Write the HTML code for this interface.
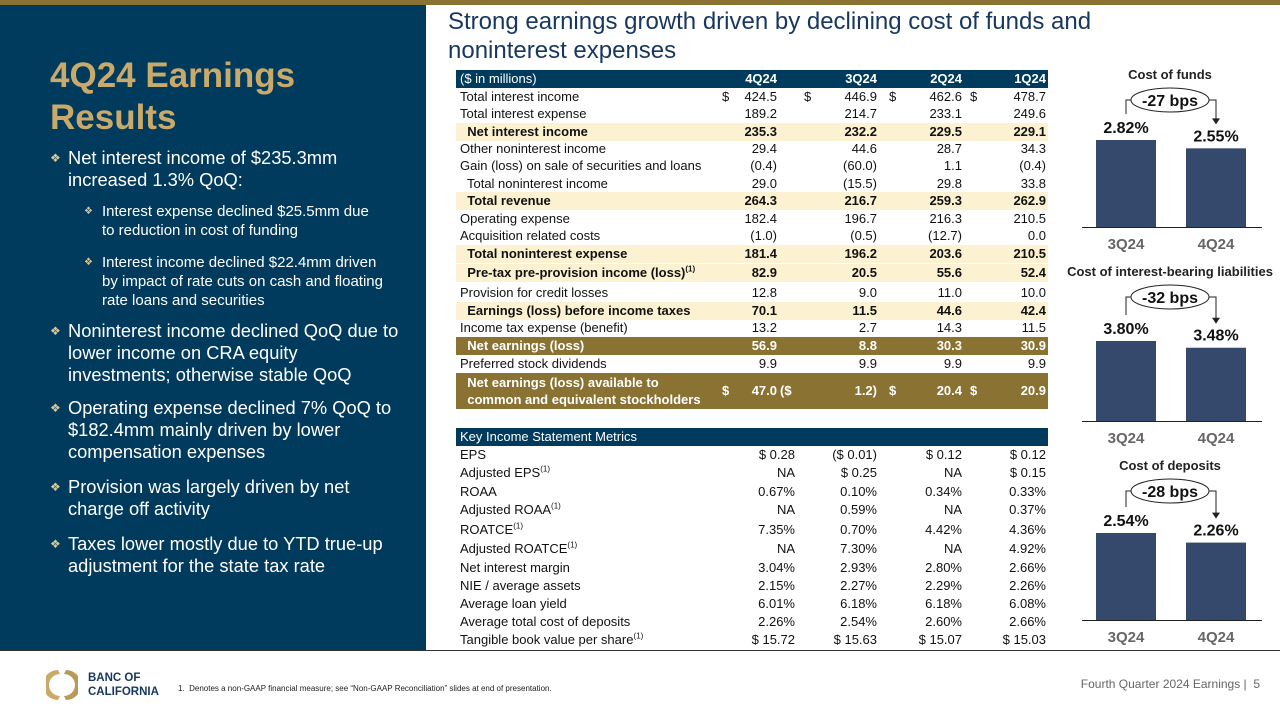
<!DOCTYPE html>
<html><head><meta charset="utf-8">
<style>
*{margin:0;padding:0;box-sizing:border-box}
body{width:1280px;height:720px;overflow:hidden;background:#fff;font-family:"Liberation Sans",Arial,sans-serif;position:relative}
.abs{position:absolute}
#left{left:0;top:5px;width:426px;height:646px;background:#003a5c}
#left .h{position:absolute;left:50px;top:50px;color:#c9aa6b;font-weight:bold;font-size:35px;line-height:42px}
.b1{position:absolute;left:50px;color:#fff;font-size:18.3px;line-height:22px;padding-left:18px;width:376px;white-space:nowrap}
.b1:before{content:"❖";position:absolute;left:0;top:0;font-size:12px;color:#d8c898}
.b2{position:absolute;left:84px;color:#fff;font-size:15px;line-height:19px;padding-left:18px;width:330px;white-space:nowrap}
.b2:before{content:"❖";position:absolute;left:0;top:0;font-size:10px;color:#d8c898}
.row{position:absolute;left:456px;width:592px;height:18px;font-size:13px;color:#111;line-height:18px}
.row span{position:absolute;top:0;white-space:nowrap}
.hl{background:#fcf2d2;font-weight:bold}
.gd{background:#8a7232;color:#fff;font-weight:bold}
.hd{background:#003a5c;color:#fff}
.hd span{font-weight:bold}
.hd span:first-child{font-weight:normal}
sup{font-size:8px;line-height:0}
</style></head><body>
<div class="abs" style="left:0;top:0;width:1280px;height:5px;background:#8a7232"></div>
<div class="abs" id="left">
 <div class="h">4Q24 Earnings<br>Results</div>
 <div class="b1" style="top:142px">Net interest income of $235.3mm<br>increased 1.3% QoQ:</div>
 <div class="b2" style="top:197px">Interest expense declined $25.5mm due<br>to reduction in cost of funding</div>
 <div class="b2" style="top:248px">Interest income declined $22.4mm driven<br>by impact of rate cuts on cash and floating<br>rate loans and securities</div>
 <div class="b1" style="top:315px">Noninterest income declined QoQ due to<br>lower income on CRA equity<br>investments; otherwise stable QoQ</div>
 <div class="b1" style="top:392px">Operating expense declined 7% QoQ to<br>$182.4mm mainly driven by lower<br>compensation expenses</div>
 <div class="b1" style="top:471px">Provision was largely driven by net<br>charge off activity</div>
 <div class="b1" style="top:528px">Taxes lower mostly due to YTD true-up<br>adjustment for the state tax rate</div>
</div>
<div class="abs" style="left:448px;top:7px;width:740px;font-size:24px;line-height:29px;color:#17375e">Strong earnings growth driven by declining cost of funds and noninterest expenses</div>
<div id="table"></div>
<svg id="charts" class="abs" style="left:0;top:0" width="1280" height="720"></svg>
<div class="abs" style="left:0;top:650px;width:1280px;height:1px;background:#333"></div>
<svg class="abs" style="left:46px;top:668px" width="32" height="34">
 <path d="M12 2 A15 15 0 0 0 12 32 L14 28 A11 11 0 0 1 14 6Z" fill="#c9aa6b"/>
 <path d="M20 2 A15 15 0 0 1 20 32 L18 28 A11 11 0 0 0 18 6Z" fill="#b89a58"/>
</svg>
<div class="abs" style="left:88px;top:671px;font-size:11.5px;font-weight:bold;line-height:14px;color:#17375e">BANC OF<br>CALIFORNIA</div>
<div class="abs" style="left:178px;top:684px;font-size:8px;color:#222">1.&nbsp; Denotes a non-GAAP financial measure; see “Non-GAAP Reconciliation” slides at end of presentation.</div>
<div class="abs" style="left:1060px;top:677px;width:200px;text-align:right;font-size:12px;color:#666">Fourth Quarter 2024 Earnings |&nbsp; 5</div>
<script>
const rows=[
 [79,"hd","($ in millions)",["4Q24","3Q24","2Q24","1Q24"],0],
 [97,"","Total interest income",["424.5","446.9","462.6","478.7"],1],
 [114,"","Total interest expense",["189.2","214.7","233.1","249.6"]],
 [132,"hl","&nbsp; Net interest income",["235.3","232.2","229.5","229.1"]],
 [149,"","Other noninterest income",["29.4","44.6","28.7","34.3"]],
 [166,"","Gain (loss) on sale of securities and loans",["(0.4)","(60.0)","1.1","(0.4)"]],
 [184,"","&nbsp; Total noninterest income",["29.0","(15.5)","29.8","33.8"]],
 [201,"hl","&nbsp; Total revenue",["264.3","216.7","259.3","262.9"]],
 [219,"","Operating expense",["182.4","196.7","216.3","210.5"]],
 [236,"","Acquisition related costs",["(1.0)","(0.5)","(12.7)","0.0"]],
 [254,"hl","&nbsp; Total noninterest expense",["181.4","196.2","203.6","210.5"]],
 [273,"hl","&nbsp; Pre-tax pre-provision income (loss)<sup>(1)</sup>",["82.9","20.5","55.6","52.4"]],
 [293,"","Provision for credit losses",["12.8","9.0","11.0","10.0"]],
 [311,"hl","&nbsp; Earnings (loss) before income taxes",["70.1","11.5","44.6","42.4"]],
 [328,"","Income tax expense (benefit)",["13.2","2.7","14.3","11.5"]],
 [346,"gd","&nbsp; Net earnings (loss)",["56.9","8.8","30.3","30.9"]],
 [364,"","Preferred stock dividends",["9.9","9.9","9.9","9.9"]]
];
const metrics=[
 ["EPS",["$ 0.28","($ 0.01)","$ 0.12","$ 0.12"]],
 ["Adjusted EPS<sup>(1)</sup>",["NA","$ 0.25","NA","$ 0.15"]],
 ["ROAA",["0.67%","0.10%","0.34%","0.33%"]],
 ["Adjusted ROAA<sup>(1)</sup>",["NA","0.59%","NA","0.37%"]],
 ["ROATCE<sup>(1)</sup>",["7.35%","0.70%","4.42%","4.36%"]],
 ["Adjusted ROATCE<sup>(1)</sup>",["NA","7.30%","NA","4.92%"]],
 ["Net interest margin",["3.04%","2.93%","2.80%","2.66%"]],
 ["NIE / average assets",["2.15%","2.27%","2.29%","2.26%"]],
 ["Average loan yield",["6.01%","6.18%","6.18%","6.08%"]],
 ["Average total cost of deposits",["2.26%","2.54%","2.60%","2.66%"]],
 ["Tangible book value per share<sup>(1)</sup>",["$ 15.72","$ 15.63","$ 15.07","$ 15.03"]]
];
const metricY=[455,473,492,510,530,549,568,586,604,622,640];
const T=document.getElementById('table');
const colR=[777,877,962,1046], dolX=[722,804,889,970];
function mkRow(y,cls,label,vals,dol,right,h){
 const r=document.createElement('div');
 r.className='row '+cls;
 
 
 r.style.top=(y-(h||18)/2)+'px';
 if(h){r.style.height=h+'px';}
 let s='<span style="left:4px;'+(h?'line-height:17px;top:1px':'')+'">'+label+'</span>';
 vals.forEach((v,i)=>{
  s+='<span style="right:'+(1048-right[i])+'px;'+(h?'top:'+(h/2-9)+'px':'')+'">'+v+'</span>';
  if(dol){
   const sym=Array.isArray(dol)?dol[i]:'$';
   const lx=Array.isArray(dol)&&sym.length>1?(right[i-1]+3-456):(dolX[i]-456);
   s+='<span style="left:'+lx+'px;'+(h?'top:'+(h/2-9)+'px':'')+'">'+sym+'</span>';
  }
 });
 r.innerHTML=s;T.appendChild(r);
}
rows.forEach(r=>mkRow(r[0],r[1],r[2],r[3],r[4],colR));
mkRow(391,'gd','&nbsp; Net earnings (loss) available to<br>&nbsp; common and equivalent stockholders',["47.0","1.2)","20.4","20.9"],["$","($","$","$"],colR,36);
mkRow(437,'hd','Key Income Statement Metrics',[],0,colR);
const mR=[795,877,962,1046];
metrics.forEach((m,i)=>mkRow(metricY[i],'',m[0],m[1],0,mR));

const cats=["3Q24","4Q24"];
const costFunds=[2.82,2.55];
const costIBL=[3.80,3.48];
const costDeposits=[2.54,2.26];
const charts=[
 {title:"Cost of funds",vals:costFunds,delta:"-27 bps",base:227,titleY:79,maxH:87},
 {title:"Cost of interest-bearing liabilities",vals:costIBL,delta:"-32 bps",base:421,titleY:276,maxH:80},
 {title:"Cost of deposits",vals:costDeposits,delta:"-28 bps",base:620,titleY:470,maxH:87}
];
const S=document.getElementById('charts');const NS="http://www.w3.org/2000/svg";
function el(t,a,txt){const e=document.createElementNS(NS,t);for(const k in a)e.setAttribute(k,a[k]);if(txt!==undefined)e.textContent=txt;S.appendChild(e);return e;}
const barX=[1096,1186],bw=60;
charts.forEach(c=>{
 const mx=Math.max(...c.vals);
 const yOf=v=>c.base-v/mx*c.maxH;
 let t=el('text',{x:1170,y:c.titleY,'text-anchor':'middle','font-size':13,'font-weight':'bold',fill:'#222','font-family':'Liberation Sans'},c.title);
 
 
 c.vals.forEach((v,i)=>{
  const y=yOf(v);
  const b=el('rect',{x:barX[i],y:y,width:bw,height:c.base-y,fill:'#34496b'});
  
  
  const l=el('text',{x:barX[i]+bw/2,y:y-7,'text-anchor':'middle','font-size':16,'font-weight':'bold',fill:'#111','font-family':'Liberation Sans'},v.toFixed(2)+'%');
  
  
  const k=el('text',{x:barX[i]+bw/2,y:c.base+22,'text-anchor':'middle','font-size':15,'font-weight':'bold',fill:'#666','font-family':'Liberation Sans'},cats[i]);
  
  
 });
 el('line',{x1:1082,x2:1262,y1:c.base+0.5,y2:c.base+0.5,stroke:'#222','stroke-width':1});
 const ey=c.titleY+21, y0=yOf(c.vals[0]), y1=yOf(c.vals[1]);
 el('path',{d:`M${barX[0]+30} ${y0-26} V${ey} H1132`,fill:'none',stroke:'#222','stroke-width':1});
 el('path',{d:`M1208 ${ey} H1216 V${y1-28}`,fill:'none',stroke:'#222','stroke-width':1});
 el('path',{d:`M1212 ${y1-30} L1220 ${y1-30} L1216 ${y1-24}Z`,fill:'#222'});
 const e=el('ellipse',{cx:1170,cy:ey,rx:39,ry:12,fill:'#fff',stroke:'#222','stroke-width':1});
 
 
 el('text',{x:1170,y:ey+6,'text-anchor':'middle','font-size':16,'font-weight':'bold',fill:'#111','font-family':'Liberation Sans'},c.delta);
});
</script>
</body></html>
